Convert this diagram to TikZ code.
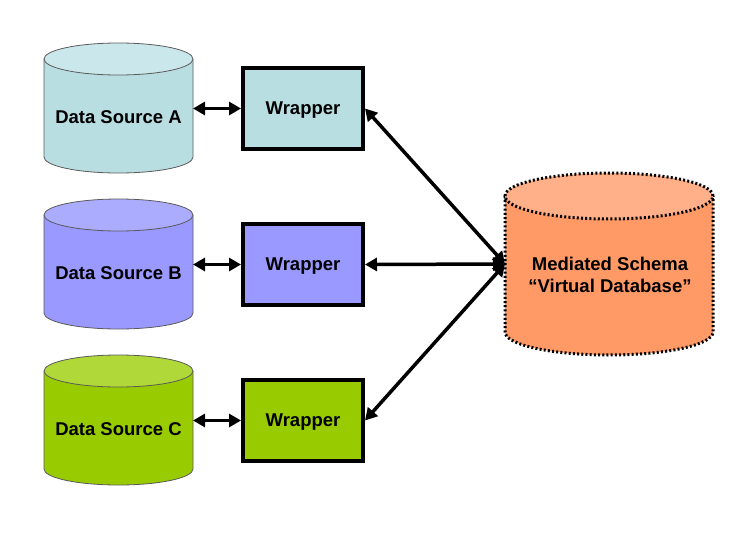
\documentclass[tikz,border=0pt]{standalone}
\usepackage{fontspec}
\setmainfont{Liberation Sans}
\usetikzlibrary{arrows.meta}
\definecolor{aBody}{RGB}{185,222,226}
\definecolor{aTop}{RGB}{202,232,235}
\definecolor{bBody}{RGB}{153,153,255}
\definecolor{bTop}{RGB}{172,172,255}
\definecolor{cBody}{RGB}{153,204,0}
\definecolor{cTop}{RGB}{176,216,56}
\definecolor{mBody}{RGB}{255,153,102}
\definecolor{mTop}{RGB}{255,176,136}
\definecolor{cylLine}{RGB}{90,90,90}
\newcommand\drawcyl[6]{% node, rx, ry, body, top, line style
  \path[fill=#4] (#1.north west) -- (#1.south west)
     arc[start angle=180,end angle=360,x radius=#2,y radius=#3] -- (#1.north east) -- cycle;
  \draw[#6] (#1.north west) -- (#1.south west)
     arc[start angle=180,end angle=360,x radius=#2,y radius=#3] -- (#1.north east);
  \draw[#6,fill=#5] (#1.north) ellipse[x radius=#2,y radius=#3];
}
\begin{document}
\begin{tikzpicture}[x=1pt,y=1pt,
  body/.style={inner sep=0pt,outer sep=0pt,minimum width=149pt,minimum height=98pt},
  lbl/.style={font=\fontsize{18.5}{22}\selectfont\bfseries,align=center},
  wrapbox/.style={draw=black,line width=4pt,minimum width=120pt,minimum height=81pt,
     text depth=0pt,font=\fontsize{18.5}{22}\selectfont\bfseries},
  link/.style={line width=3.5pt,{Triangle[length=12pt,width=13pt]}-{Triangle[length=12pt,width=13pt]}},
  thin/.style={draw=cylLine,line width=0.8pt},
  dots/.style={draw=black,line width=3pt,dash pattern=on 2pt off 2.2pt}]
\useasboundingbox (0,0) rectangle (750,-536);
% bodies (invisible anchors)
\node[body] (dsA) at (118.5,-108) {};
\node[body] (dsB) at (118.5,-264) {};
\node[body] (dsC) at (118.5,-420) {};
\node[inner sep=0pt,outer sep=0pt,minimum width=208pt,minimum height=136pt] (med) at (609,-264) {};
\drawcyl{dsA}{74.5pt}{16pt}{aBody}{aTop}{thin}
\drawcyl{dsB}{74.5pt}{16pt}{bBody}{bTop}{thin}
\drawcyl{dsC}{74.5pt}{16pt}{cBody}{cTop}{thin}
\drawcyl{med}{104pt}{23pt}{mBody}{mTop}{dots}
% labels
\node[lbl] (tA) at (118.5,-117) {Data Source A};
\node[lbl] (tB) at (118.5,-273) {Data Source B};
\node[lbl] (tC) at (118.5,-429) {Data Source C};
\node[lbl] (tM) at (610,-275) {Mediated Schema\\“Virtual Database”};
% wrappers
\node[wrapbox,fill=aBody] (wA) at (303,-108.5) {Wrapper};
\node[wrapbox,fill=bBody] (wB) at (303,-264.5) {Wrapper};
\node[wrapbox,fill=cBody] (wC) at (303,-420.5) {Wrapper};
% connectors
\draw[link] (dsA.east |- wA.west) -- (wA.west);
\draw[link] (dsB.east |- wB.west) -- (wB.west);
\draw[link] (dsC.east |- wC.west) -- (wC.west);
\draw[link] (wA.east) -- (med.west);
\draw[link] (wB.east) -- (med.west);
\draw[link] (wC.east) -- (med.west);
\end{tikzpicture}
\end{document}
